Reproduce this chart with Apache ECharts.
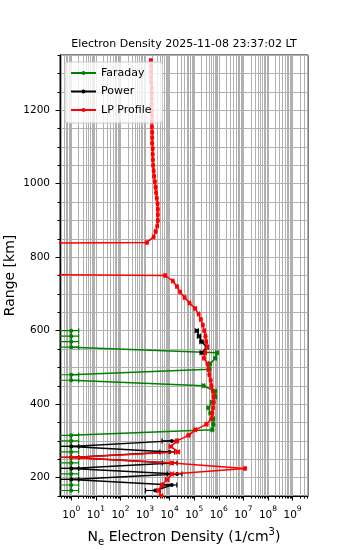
<!DOCTYPE html>
<html><head><meta charset="utf-8">
<script src="https://cdn.jsdelivr.net/npm/echarts@6/dist/echarts.min.js"></script>
<style>html,body{margin:0;padding:0;background:#fff}#c{width:350px;height:550px}</style>
</head><body><div id="c"></div>
<script>
const titleText = 'Electron Density 2025-11-08 23:37:02 LT';
const seriesNames = ['Faraday', 'Power', 'LP Profile'];
const xTickLabels = [1, 10, 100, 1e3, 1e4, 1e5, 1e6, 1e7, 1e8, 1e9];
const yTickLabels = [200, 400, 600, 800, 1000, 1200];

// Faraday rotation profile (km, 1/cm^3) and relative error
const farKm = [165,180,195,210,225,240,255,270,285,300,315,330,345,360,375,390,405,420,435,450,465,480,495,510,525,540,555,570,585,600];
const farNe = [1,1,1,1,1,1,1,1,1,1,1,5.5e5,6.0e5,5.9e5,4.6e5,3.8e5,5.2e5,7.2e5,7.1e5,2.4e5,1,1,4.2e5,4.5e5,7.2e5,8.5e5,1,1,1,1];
const farErr = [1,1,1,1,1,1,1,1,1,1,1,0.12,0.12,0.12,0.12,0.12,0.12,0.12,0.12,0.12,1,1,0.12,0.12,0.12,0.12,1,1,1,1];

// Power profile (gaps = null)
const powKm = [165,180,195,210,225,240,255,270,285,300,315,330,345,360,375,390,405,420,435,450,465,480,495,510,525,540,555,570,585,600];
const powNe = [2600,12300,1,20000,1,12600,1,10000,1,12300,null,null,null,null,null,null,null,null,null,null,null,null,null,null,null,204000,331000,199500,158500,128800];
const powErr = [0.6,0.6,1,0.6,1,0.6,1,0.6,1,0.6,0,0,0,0,0,0,0,0,0,0,0,0,0,0,0,0.15,0.15,0.15,0.15,0.15];

// LP profile (1e-30 = zero / below axis)
const lpKm = [150,165,180,195,210,225,240,255,270,285,300,315,330,345,360,375,390,405,420,435,450,465,480,495,510,525,540,555,570,585,600,615,630,645,660,675,690,705,720,735,750,765,780,795,810,825,840,855,870,885,900,915,930,945,960,975,990,1005,1020,1035,1050,1065,1080,1095,1110,1125,1140,1155,1170,1185,1200,1215,1230,1245,1260,1275,1290,1305,1320,1335];
const lpNe = [4571,3548,4898,7943,12590,1.175e7,12300,1,21880,11220,19950,58880,112200,316200,501200,549500,588800,616600,616600,575400,501200,467700,416900,380200,346700,251200,281800,338800,309000,288400,257000,223900,186200,151400,109600,64570,40740,26920,19950,13490,6607,1e-30,1e-30,1e-30,1e-30,1e-30,1202,2239,2692,3162,3311,3311,3311,3236,3020,2851,2692,2512,2344,2239,2138,2089,2042,2042,1950,1950,1950,1905,1905,1905,1862,1862,1862,1862,1862,1778,1778,1778,1778,1738];
const lpErr = [0.15,0.15,0.15,0.15,0.15,0.1,0.15,1,0.15,0.15,0.15,0.12,0.12,0.12,0.1,0.1,0.1,0.1,0.1,0.1,0.1,0.1,0.1,0.1,0.1,0.1,0.1,0.1,0.1,0.1,0.1,0.1,0.1,0.1,0.1,0.1,0.1,0.1,0.1,0.1,0.1,0,0,0,0,0,0.1,0.1,0.1,0.1,0.1,0.1,0.1,0.1,0.1,0.1,0.1,0.1,0.1,0.1,0.1,0.1,0.1,0.1,0.1,0.1,0.1,0.1,0.1,0.1,0.1,0.1,0.1,0.1,0.1,0.1,0.1,0.1,0.1,0.1];

const colors = ['#008000', '#000000', '#ff0000'];
const FONT = 'DejaVu Sans';
const XMIN = 0.3478, XMAX = 4.26e9, YMIN = 150, YMAX = 1350;

// axis tick positions (major + minor decades)
const xMinor = [];
for (let e = -1; e <= 9; e++) for (let k = 1; k <= 9; k++) {
  const v = k * Math.pow(10, e);
  if (v >= XMIN && v <= XMAX) xMinor.push(v);
}
const yMinor = [];
for (let v = YMIN; v <= YMAX; v += 50) yMinor.push(v);

function lineSeries(i, km, ne) {
  return {
    type: 'line', name: seriesNames[i], xAxisIndex: 0, yAxisIndex: 0, z: 3 + i * 2,
    data: km.map((h, j) => [ne[j], h]),
    symbol: 'circle', symbolSize: 4, showSymbol: true, clip: true,
    connectNulls: false, animation: false,
    lineStyle: { color: colors[i], width: 1.5 },
    itemStyle: { color: colors[i] }
  };
}
function errSeries(i, km, ne, err) {
  const data = [];
  km.forEach((h, j) => {
    if (ne[j] == null || !err[j]) return;
    data.push([ne[j], h, Math.max(ne[j] * (1 - err[j]), 1e-30), ne[j] * (1 + err[j])]);
  });
  return {
    type: 'custom', name: seriesNames[i] + ' err', xAxisIndex: 0, yAxisIndex: 0,
    z: 2 + i * 2, clip: true, silent: true, animation: false,
    encode: { x: 0, y: 1 }, data,
    renderItem(params, api) {
      const y = api.value(1);
      const a = api.coord([api.value(2), y]);
      const b = api.coord([api.value(3), y]);
      const cap = 2.5;
      const st = { stroke: colors[i], lineWidth: 1.2 };
      return { type: 'group', children: [
        { type: 'line', shape: { x1: a[0], y1: a[1], x2: b[0], y2: b[1] }, style: st },
        { type: 'line', shape: { x1: a[0], y1: a[1] - cap, x2: a[0], y2: a[1] + cap }, style: st },
        { type: 'line', shape: { x1: b[0], y1: b[1] - cap, x2: b[0], y2: b[1] + cap }, style: st }
      ]};
    }
  };
}

const chart = echarts.init(document.getElementById('c'), null, { renderer: 'canvas' });
chart.setOption({
  animation: false,
  backgroundColor: '#fff',
  textStyle: { fontFamily: FONT },
  grid: { left: 60, top: 55, width: 248, height: 441, show: true, borderColor: '#000', borderWidth: 1, backgroundColor: 'transparent', containLabel: false },
  legend: {
    data: seriesNames, orient: 'vertical', left: 65, top: 62,
    itemWidth: 25, itemHeight: 5, itemGap: 7.5,
    padding: [5.5, 11, 7.5, 5],
    backgroundColor: 'rgba(255,255,255,0.8)', borderColor: '#cccccc', borderWidth: 1, borderRadius: 3,
    textStyle: { fontFamily: FONT, fontSize: 11, color: '#000' }, z: 20
  },
  xAxis: [{
    type: 'log', logBase: 10, min: XMIN, max: XMAX, position: 'bottom',
    axisLine: { show: true, lineStyle: { color: '#000', width: 1 } },
    axisTick: { show: true, customValues: xMinor, length: 2.5, lineStyle: { color: '#000', width: 1 } },
    splitLine: { show: true, lineStyle: { color: '#b0b0b0', width: 1 } },
    minorTick: { show: false }, minorSplitLine: { show: false },
    axisLabel: {
      customValues: xTickLabels, margin: 9, color: '#000',
      formatter: v => '{b|10}{s|' + Math.round(Math.log10(v)) + '}',
      rich: {
        b: { fontFamily: FONT, fontSize: 10.5, lineHeight: 16, verticalAlign: 'bottom', color: '#000' },
        s: { fontFamily: FONT, fontSize: 7.5, lineHeight: 8, verticalAlign: 'top', color: '#000' }
      }
    }
  }, {
    type: 'log', logBase: 10, min: XMIN, max: XMAX, position: 'bottom',
    axisLine: { show: false },
    axisTick: { show: true, customValues: xTickLabels, length: 4.5, lineStyle: { color: '#000', width: 1 } },
    splitLine: { show: false }, axisLabel: { show: false }
  }],
  yAxis: [{
    type: 'value', min: YMIN, max: YMAX, position: 'left',
    axisLine: { show: true, lineStyle: { color: '#000', width: 1 } },
    axisTick: { show: true, customValues: yMinor, length: 2.5, lineStyle: { color: '#000', width: 1 } },
    splitLine: { show: true, lineStyle: { color: '#b0b0b0', width: 1 } },
    axisLabel: { customValues: yTickLabels, margin: 10, fontFamily: FONT, fontSize: 10.5, color: '#000', formatter: v => String(v) }
  }, {
    type: 'value', min: YMIN, max: YMAX, position: 'left',
    axisLine: { show: false },
    axisTick: { show: true, customValues: yTickLabels, length: 4.5, lineStyle: { color: '#000', width: 1 } },
    splitLine: { show: false }, axisLabel: { show: false }
  }],
  graphic: [
    { type: 'text', x: 184, y: 44, style: { text: titleText, font: '11px "DejaVu Sans"', fill: '#000', textAlign: 'center', textVerticalAlign: 'middle' } },
    { type: 'text', x: 10, y: 275.5, rotation: Math.PI / 2, style: { text: 'Range [km]', font: '14px "DejaVu Sans"', fill: '#000', textAlign: 'center', textVerticalAlign: 'middle' } },
    { type: 'text', x: 184, y: 537, style: {
      text: '{n|N}{sub|e}{n| Electron Density (1/cm}{sup|3}{n|)}',
      textAlign: 'center', textVerticalAlign: 'middle',
      rich: {
        n: { fontFamily: FONT, fontSize: 14, lineHeight: 20, verticalAlign: 'middle', fill: '#000' },
        sub: { fontFamily: FONT, fontSize: 10, lineHeight: 12, verticalAlign: 'bottom', fill: '#000' },
        sup: { fontFamily: FONT, fontSize: 10, lineHeight: 12, verticalAlign: 'top', fill: '#000' }
      }
    } }
  ],
  series: [
    errSeries(0, farKm, farNe, farErr), lineSeries(0, farKm, farNe),
    errSeries(1, powKm, powNe, powErr), lineSeries(1, powKm, powNe),
    errSeries(2, lpKm, lpNe, lpErr), lineSeries(2, lpKm, lpNe)
  ]
});
</script></body></html>
